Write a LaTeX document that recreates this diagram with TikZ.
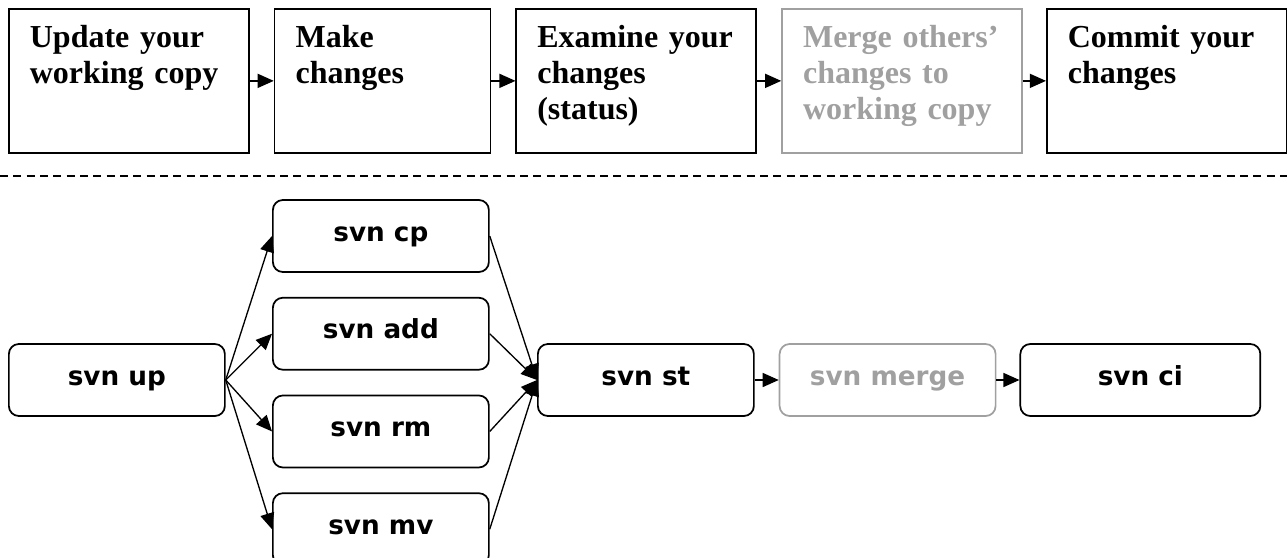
\documentclass[tikz,border=0pt]{standalone}
\usepackage{fontspec}
\setmainfont{Liberation Serif}
\newfontfamily\cmdfont{DejaVu Sans}
\usepackage{tikz}
\usetikzlibrary{arrows.meta, positioning}
\usepackage{xcolor}
\definecolor{mergegray}{HTML}{A0A0A0}

\begin{document}
\begin{tikzpicture}[
  stepbox/.style={rectangle, draw=black, line width=1.3pt, align=left,
    font=\fontsize{24pt}{27pt}\selectfont\bfseries,
    inner xsep=15.75pt, inner ysep=11.25pt,
    text height=18pt, text depth=67.5pt, text width=148.5pt},
  cmdbox/.style={rectangle, rounded corners=7.5pt, draw=black, line width=1.3pt,
    minimum width=162pt, minimum height=54pt, text height=12pt, text depth=4.5pt,
    font=\fontsize{19.7pt}{22pt}\cmdfont\bfseries},
  flow/.style={-{Triangle[length=12pt,width=10.5pt]}, line width=1pt},
  faded/.style={draw=mergegray, text=mergegray}
]
\useasboundingbox (0,0) rectangle (965.25pt,-417.75pt);

\node[stepbox, anchor=north west] (update) at (6pt,-6pt) {Update your\\working copy};
\node[stepbox, text width=130.5pt, right=18pt of update] (make) {Make\\changes};
\node[stepbox, right=18pt of make] (examine) {Examine your\\changes\\(status)};
\node[stepbox, faded, right=18pt of examine] (mergeothers) {Merge~others'\\changes to\\working copy};
\node[stepbox, right=17.25pt of mergeothers] (commit) {Commit your\\changes};

\draw[flow] (update) -- (make);
\draw[flow] (make) -- (examine);
\draw[flow] (examine) -- (mergeothers);
\draw[flow] (mergeothers) -- (commit);

\coordinate (sepleft) at (0,-132pt);
\coordinate (sepright) at (965.25pt,-132pt);
\draw[dash pattern=on 6pt off 4pt, line width=0.8pt] (sepleft) -- (sepright);

\node[cmdbox, anchor=west] (up) at (6pt,-285pt) {svn up};
\node[cmdbox, anchor=west] (cp) at (204pt,-177pt) {svn cp};
\node[cmdbox, below=18pt of cp] (add) {svn add};
\node[cmdbox, below=18pt of add] (rm) {svn rm};
\node[cmdbox, below=18pt of rm] (mv) {svn mv};
\node[cmdbox, anchor=west] (st) at (402.75pt,-285pt) {svn st};
\node[cmdbox, faded, right=18pt of st] (merge) {svn merge};
\node[cmdbox, minimum width=180pt, right=17.25pt of merge] (ci) {svn ci};

\foreach \cmd in {cp, add, rm, mv} {
  \draw[flow] (up.east) -- (\cmd.west);
  \draw[flow] (\cmd.east) -- (st.west);
}
\draw[flow] (st) -- (merge);
\draw[flow] (merge) -- (ci);
\end{tikzpicture}
\end{document}
